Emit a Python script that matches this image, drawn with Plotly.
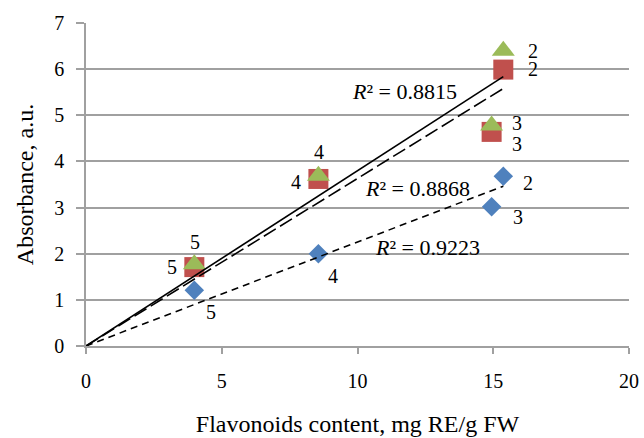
import numpy as np
import plotly.graph_objects as go

# ---- data ----
x_vals = [3.99, 8.56, 14.94, 15.37]
blue_y = [1.21, 2.00, 3.02, 3.68]
red_y = [1.71, 3.62, 4.64, 5.99]
green_y = [1.77, 3.69, 4.78, 6.40]
point_labels = ["5", "4", "3", "2"]
r2_blue = "0.9223"
r2_red = "0.8868"
r2_green = "0.8815"
x_ticks = [0, 5, 10, 15, 20]
y_ticks = [0, 1, 2, 3, 4, 5, 6, 7]

FONT = "Liberation Serif"
BLUE = "#4F81BD"
RED = "#C0504D"
GREEN = "#9BBB59"

fig = go.Figure()

fig.add_trace(go.Scatter(x=x_vals, y=blue_y, mode="markers",
                         marker=dict(symbol="diamond", size=15, color=BLUE, line=dict(width=0)),
                         showlegend=False))
fig.add_trace(go.Scatter(x=x_vals, y=red_y, mode="markers",
                         marker=dict(symbol="square", size=20, color=RED, line=dict(width=0)),
                         showlegend=False))
fig.add_trace(go.Scatter(x=x_vals, y=green_y, mode="markers",
                         marker=dict(symbol="triangle-up", size=20, color=GREEN, line=dict(width=0)),
                         showlegend=False))

# trend lines through the origin (least squares, zero intercept)
xa = np.array(x_vals)
def slope(y):
    ya = np.array(y)
    return float((xa * ya).sum() / (xa * xa).sum())

x_line = [0.0, float(xa.max())]
for ys, dash in [(blue_y, "7px,5px"), (red_y, "14px,5px"), (green_y, "solid")]:
    k = slope(ys)
    fig.add_trace(go.Scatter(x=x_line, y=[k * v for v in x_line], mode="lines",
                             line=dict(color="black", width=1.6, dash=dash),
                             showlegend=False, hoverinfo="skip"))

annotations = []
# point labels (offsets in pixels)
blue_off = [(17, -22), (15, -22), (26, -10), (25, -7)]
red_off = [(-22, 0), (-22, -3), (25, -12), (30, 1)]
green_off = [(1, 22), (1, 24), (25, 2), (30, 0)]
for ys, offs in [(blue_y, blue_off), (red_y, red_off), (green_y, green_off)]:
    for xv, yv, lab, (dx, dy) in zip(x_vals, ys, point_labels, offs):
        annotations.append(dict(x=xv, y=yv, text=lab, showarrow=False,
                                xshift=dx, yshift=dy,
                                font=dict(family=FONT, size=20, color="black")))

for txt, xp, yp in [(r2_green, 9.72, 5.52), (r2_red, 10.2, 3.42), (r2_blue, 10.58, 2.14)]:
    annotations.append(dict(x=xp, y=yp, xanchor="left", yanchor="middle",
                            text="<i>R</i>² = " + txt, showarrow=False,
                            font=dict(family=FONT, size=22, color="black")))

fig.update_layout(
    width=644, height=438,
    margin=dict(l=86, r=15, t=23, b=92),
    paper_bgcolor="white", plot_bgcolor="white",
    font=dict(family=FONT, size=20, color="black"),
    annotations=annotations,
    xaxis=dict(range=[0, 20], tickvals=x_ticks, showgrid=False, automargin=False,
               showline=True, linecolor="#a0a0a0", linewidth=1.5,
               ticks="outside", ticklen=6, tickcolor="#a0a0a0", tickwidth=1.5,
               ticklabelstandoff=10, zeroline=False,
               tickfont=dict(family=FONT, size=20, color="black"),
               title=dict(text="Flavonoids content, mg RE/g FW",
                          font=dict(family=FONT, size=24, color="black"), standoff=24)),
    yaxis=dict(range=[0, 7], tickvals=y_ticks, showgrid=True, automargin=False,
               gridcolor="#a0a0a0", gridwidth=1.5,
               showline=True, linecolor="#a0a0a0", linewidth=1.5,
               ticks="outside", ticklen=8, tickcolor="#a0a0a0", tickwidth=1.5,
               ticklabelstandoff=8, zeroline=False,
               tickfont=dict(family=FONT, size=20, color="black"),
               title=dict(text="Absorbance, a.u.",
                          font=dict(family=FONT, size=24, color="black"), standoff=14)),
)

fig.write_html("out.html")
